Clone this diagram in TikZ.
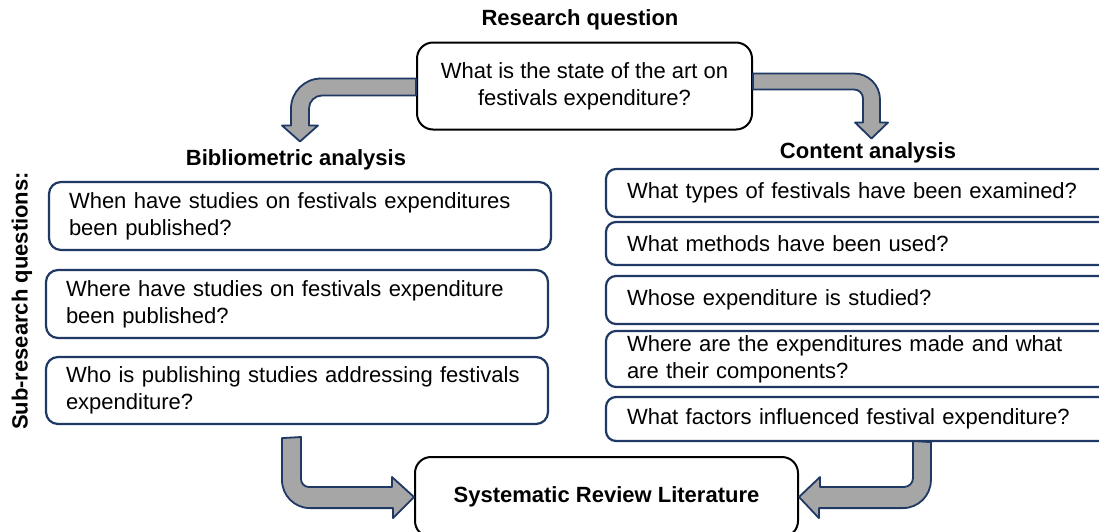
\documentclass[tikz,border=0pt]{standalone}
\usepackage{fontspec}
\setmainfont{Liberation Sans}
\usepackage{tikz}
\usetikzlibrary{calc}
\definecolor{boxnavy}{RGB}{31,56,100}
\definecolor{bandgray}{RGB}{166,166,166}

\begin{document}
\begin{tikzpicture}[x=1pt, y=1pt,
    every node/.style={font=\fontsize{22}{27}\selectfont},
    heading/.style={font=\fontsize{22}{27}\selectfont\bfseries},
    mainbox/.style={draw=black, line width=2pt, rounded corners=16pt, fill=white, align=center},
    leftq/.style={draw=boxnavy, line width=2.2pt, rounded corners=12pt, fill=white, inner xsep=20pt, inner ysep=0pt, text width=462pt, align=left, minimum height=68pt},
    rightq/.style={draw=boxnavy, line width=2.2pt, rounded corners=10pt, fill=white, inner xsep=21pt, inner ysep=0pt, text width=468pt, align=left},
    band/.style={fill=bandgray, draw=boxnavy, line width=1.8pt, line join=round}]
  \useasboundingbox (0,0) rectangle (1099,-531);
  \clip (0,0) rectangle (1099,-531);

  % headings
  \node[heading] (rqhead) at (580,-20) {Research question};
  \node[heading] (bibhead) at (296,-160) {Bibliometric analysis};
  \node[heading] (conhead) at (868,-153) {Content analysis};
  \node[heading, rotate=90] (subhead) at (22,-301) {Sub-research questions:};

  % main question and result
  \node[mainbox, minimum width=335pt, minimum height=87pt] (rq) at (584.5,-86) {What is the state of the art on\\festivals expenditure?};
  \node[mainbox, minimum width=383pt, minimum height=80pt, font=\fontsize{22}{27}\selectfont\bfseries] (srl) at (606.5,-497) {Systematic Review Literature};

  % bibliometric side
  \node[leftq] (l1) at (300,-216) {When have studies on festivals expenditures\\been published?};
  \node[leftq] (l2) at (297,-304) {Where have studies on festivals expenditure\\been published?};
  \node[leftq, minimum height=67pt] (l3) at (297,-390.5) {Who is publishing studies addressing festivals\\expenditure?};

  % content side
  \node[rightq, minimum height=48pt] (r1) at (861,-193) {What types of festivals have been examined?};
  \node[rightq, minimum height=43pt] (r2) at (861,-243.5) {What methods have been used?};
  \node[rightq, minimum height=48pt] (r3) at (861,-300) {Whose expenditure is studied?};
  \node[rightq, minimum height=56pt] (r4) at (861,-359) {Where are the expenditures made and what\\are their components?};
  \node[rightq, minimum height=44pt] (r5) at (861,-419) {What factors influenced festival expenditure?};

  % bent block arrows
  \draw[band] ([yshift=7.5pt]rq.west) -- ++(-95,0) arc[start angle=90, end angle=180, radius=30]
    -- ++(0,-17) -- ++(-9,0) -- ++(18,-16) -- ++(18,16) -- ++(-9,0) -- ++(0,17)
    arc[start angle=180, end angle=90, radius=13] -- ([yshift=-9.5pt]rq.west) -- cycle;
  \draw[band] ([yshift=12.5pt]rq.east) -- ++(101,0) arc[start angle=90, end angle=0, radius=26]
    -- ++(0,-23) -- ++(8,0) -- ++(-16.5,-16) -- ++(-16.5,16) -- ++(8,0) -- ++(0,24)
    arc[start angle=0, end angle=90, radius=9] -- ([yshift=-3.5pt]rq.east) -- cycle;
  \draw[band] ([xshift=-15pt, yshift=-13pt]l3.south) -- ++(0,-42) arc[start angle=180, end angle=270, radius=28]
    -- ++(83,0) -- ++(0,-10) -- (srl.west) -- ++(-22,20) -- ++(0,-10) -- ++(-83,0)
    arc[start angle=270, end angle=180, radius=8] -- ++(0,42) -- cycle;
  \draw[band] ([xshift=326pt]r5.south west) -- ++(0,-38) arc[start angle=0, end angle=-90, radius=28]
    -- ++(-84,0) -- ++(0,-10) -- (srl.east) -- ++(21,20) -- ++(0,-10) -- ++(84,0)
    arc[start angle=-90, end angle=0, radius=9] -- ++(0,37) -- cycle;
\end{tikzpicture}
\end{document}
